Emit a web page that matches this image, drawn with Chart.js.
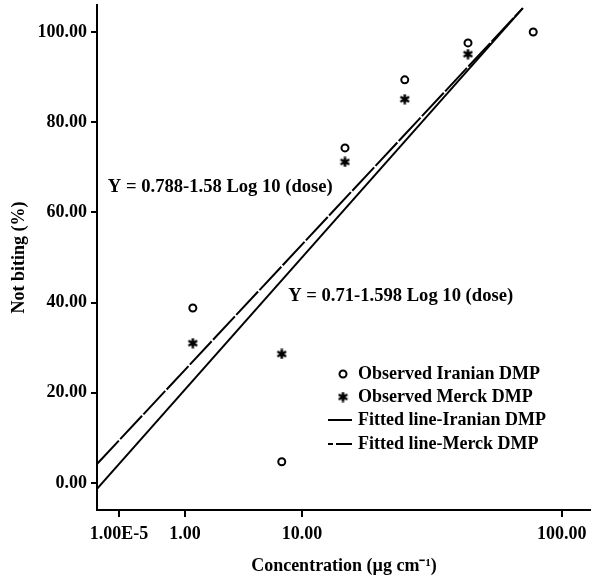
<!DOCTYPE html>
<html>
<head>
<meta charset="utf-8">
<script src="https://cdn.jsdelivr.net/npm/chart.js@4.4.1/dist/chart.umd.min.js"></script>
<style>
body { margin: 0; background: #fff; }
</style>
</head>
<body>
<canvas id="probit-chart" width="591" height="581"></canvas>
<script>
// x axis is the plot position (0 = y axis, 100 = right edge), labels are the printed doses
var xTickPos = [4.45, 17.8, 41.5, 94.1];
var xTickLabels = ['1.00E-5', '1.00', '10.00', '100.00'];
var yTicks = [0, 20, 40, 60, 80, 100];

var doseX = [19.4, 37.4, 50.2, 62.3, 75.1, 88.3];
var iranianObserved = [38.8, 4.7, 74.3, 89.4, 97.6, 100.0];
var merckObserved = [31.0, 28.6, 71.2, 85.1, 95.1];

var fitX = [0, 86.2];
var iranianFit = [-1.3, 105.3];
var merckFit = [4.2, 105.3];

var equations = ['Y = 0.788-1.58 Log 10 (dose)', 'Y = 0.71-1.598 Log 10 (dose)'];
var equationX = [2.2, 38.7];
var equationY = [65.6, 41.5];

var legendLabels = ['Observed Iranian DMP', 'Observed Merck DMP', 'Fitted line-Iranian DMP', 'Fitted line-Merck DMP'];

var FONT = '"Liberation Serif", "Times New Roman", serif';

function pairs(xs, ys) {
	var out = [];
	for (var i = 0; i < ys.length; i++) {
		out.push({ x: xs[i], y: ys[i] });
	}
	return out;
}

// six armed asterisk used for the Merck points
function makeStar(size, lw) {
	var c = document.createElement('canvas');
	c.width = size;
	c.height = size;
	var g = c.getContext('2d');
	var r = size / 2 - 0.5, m = size / 2;
	g.strokeStyle = '#000';
	g.lineWidth = lw;
	g.beginPath();
	for (var a = 0; a < 3; a++) {
		var ang = Math.PI / 2 + a * Math.PI / 3;
		g.moveTo(m + r * Math.cos(ang), m - r * Math.sin(ang));
		g.lineTo(m - r * Math.cos(ang), m + r * Math.sin(ang));
	}
	g.stroke();
	return c;
}
var starImg = makeStar(11, 2.5);

// equations and legend drawn inside the plot
var notesPlugin = {
	id: 'notes',
	afterDatasetsDraw: function(chart) {
		var ctx = chart.ctx;
		var xs = chart.scales.x, ys = chart.scales.y;
		ctx.save();
		ctx.fillStyle = '#000';
		ctx.strokeStyle = '#000';
		ctx.textBaseline = 'middle';
		ctx.textAlign = 'left';

		ctx.font = 'bold 18.6px ' + FONT;
		for (var i = 0; i < equations.length; i++) {
			ctx.fillText(equations[i], xs.getPixelForValue(equationX[i]), ys.getPixelForValue(equationY[i]));
		}

		var lx = 343, tx = 358;
		var rows = [374, 397, 420, 444];
		ctx.lineWidth = 2;
		ctx.beginPath();
		ctx.arc(lx, rows[0], 3.5, 0, Math.PI * 2);
		ctx.stroke();
		ctx.drawImage(starImg, lx - 5.5, rows[1] - 5.5);

		ctx.beginPath();
		ctx.moveTo(328, rows[2]);
		ctx.lineTo(352, rows[2]);
		ctx.stroke();
		ctx.beginPath();
		ctx.moveTo(328, rows[3]);
		ctx.lineTo(333, rows[3]);
		ctx.moveTo(336, rows[3]);
		ctx.lineTo(352, rows[3]);
		ctx.stroke();

		ctx.font = 'bold 18px ' + FONT;
		for (var j = 0; j < legendLabels.length; j++) {
			ctx.fillText(legendLabels[j], tx, rows[j]);
		}
		ctx.restore();
	}
};

var ctx = document.getElementById('probit-chart');

var chart = new Chart(ctx, {
	type: 'scatter',
	data: {
		datasets: [
			{
				label: 'Observed Iranian DMP',
				data: pairs(doseX, iranianObserved),
				pointStyle: 'circle',
				pointRadius: 3.5,
				pointBorderWidth: 2,
				borderColor: '#000',
				backgroundColor: 'rgba(0,0,0,0)'
			},
			{
				label: 'Observed Merck DMP',
				data: pairs(doseX, merckObserved),
				pointStyle: starImg,
				pointRadius: 5,
				borderColor: '#000',
				backgroundColor: '#000'
			},
			{
				label: 'Fitted line-Iranian DMP',
				type: 'line',
				data: pairs(fitX, iranianFit),
				borderColor: '#000',
				borderWidth: 2,
				pointRadius: 0,
				fill: false
			},
			{
				label: 'Fitted line-Merck DMP',
				type: 'line',
				data: pairs(fitX, merckFit),
				borderColor: '#000',
				borderWidth: 2,
				borderDash: [32, 2],
				pointRadius: 0,
				fill: false
			}
		]
	},
	options: {
		responsive: false,
		animation: false,
		clip: false,
		layout: { autoPadding: false, padding: { top: 5, right: 0, left: 0, bottom: 0 } },
		plugins: {
			legend: { display: false },
			tooltip: { enabled: false }
		},
		scales: {
			x: {
				type: 'linear',
				min: 0,
				max: 100,
				afterBuildTicks: function(axis) {
					axis.ticks = xTickPos.map(function(v) { return { value: v }; });
				},
				afterFit: function(axis) {
					axis.height = 71;
				},
				ticks: {
					autoSkip: false,
					maxRotation: 0,
					padding: 0,
					color: '#000',
					font: { family: FONT, size: 18, weight: 'bold', lineHeight: 1.9 },
					callback: function(value) {
						var k = xTickPos.indexOf(value);
						return k >= 0 ? xTickLabels[k] : '';
					}
				},
				grid: { drawOnChartArea: false, drawTicks: true, tickLength: 7, color: '#000', lineWidth: 2 },
				border: { display: true, color: '#000', width: 2 },
				title: {
					display: true,
					text: 'Concentration (µg cm⁻¹)',
					color: '#000',
					font: { family: FONT, size: 18, weight: 'bold' },
					padding: { top: 0, bottom: 4 }
				}
			},
			y: {
				type: 'linear',
				min: -6,
				max: 106,
				afterBuildTicks: function(axis) {
					axis.ticks = yTicks.map(function(v) { return { value: v }; });
				},
				afterFit: function(axis) {
					axis.width = 97;
					axis.paddingTop = 0;
					axis.paddingBottom = 0;
				},
				ticks: {
					padding: 4,
					color: '#000',
					font: { family: FONT, size: 18, weight: 'bold' },
					callback: function(value) { return value.toFixed(2); }
				},
				grid: { drawOnChartArea: false, drawTicks: true, tickLength: 6, color: '#000', lineWidth: 2 },
				border: { display: true, color: '#000', width: 2 },
				title: {
					display: true,
					text: 'Not biting (%)',
					color: '#000',
					font: { family: FONT, size: 18, weight: 'bold' },
					padding: { top: 9, bottom: 0 }
				}
			}
		}
	},
	plugins: [notesPlugin]
});
</script>
</body>
</html>
